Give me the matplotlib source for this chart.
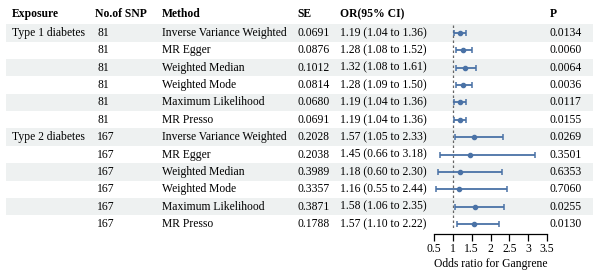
import matplotlib.pyplot as plt
import numpy as np

plt.rcParams['font.family'] = ['Liberation Serif', 'DejaVu Serif']

# table data
exposure = ['Type 1 diabetes', '', '', '', '', '',
            'Type 2 diabetes', '', '', '', '', '']
n_snp = [81, 81, 81, 81, 81, 81, 167, 167, 167, 167, 167, 167]
methods = ['Inverse Variance Weighted', 'MR Egger', 'Weighted Median',
           'Weighted Mode', 'Maximum Likelihood', 'MR Presso'] * 2
se = ['0.0691', '0.0876', '0.1012', '0.0814', '0.0680', '0.0691',
      '0.2028', '0.2038', '0.3989', '0.3357', '0.3871', '0.1788']
or_val = [1.19, 1.28, 1.32, 1.28, 1.19, 1.19, 1.57, 1.45, 1.18, 1.16, 1.58, 1.57]
ci_low = [1.04, 1.08, 1.08, 1.09, 1.04, 1.04, 1.05, 0.66, 0.60, 0.55, 1.06, 1.10]
ci_high = [1.36, 1.52, 1.61, 1.50, 1.36, 1.36, 2.33, 3.18, 2.30, 2.44, 2.35, 2.22]
p_val = ['0.0134', '0.0060', '0.0064', '0.0036', '0.0117', '0.0155',
         '0.0269', '0.3501', '0.6353', '0.7060', '0.0255', '0.0130']

W, H = 600, 276
fig = plt.figure(figsize=(W / 100, H / 100), dpi=100)

# table axes in pixel coordinates
ax = fig.add_axes([0, 0, 1, 1])
ax.set_xlim(0, W)
ax.set_ylim(H, 0)
ax.axis('off')

row0, pitch = 33.0, 17.36
rows_y = row0 + pitch * np.arange(len(methods))
fs = 8.4
blue = '#4a72a6'

for i, y in enumerate(rows_y):
    if i % 2 == 0:
        ax.axhspan(y - pitch / 2, y + pitch / 2, xmin=6 / W, xmax=593 / W,
                   color='#eef1f1', lw=0, zorder=0)

headers = [(12, 'Exposure'), (95, 'No.of SNP'), (162, 'Method'),
           (297, 'SE'), (340, 'OR(95% CI)'), (550, 'P')]
for x, h in headers:
    ax.text(x, 14, h, fontsize=fs, fontweight='bold', va='center', ha='left')

for i, y in enumerate(rows_y):
    ax.text(12, y, exposure[i], fontsize=fs, va='center')
    ax.text(97, y, str(n_snp[i]), fontsize=fs, va='center')
    ax.text(162, y, methods[i], fontsize=fs, va='center')
    ax.text(297, y, se[i], fontsize=fs, va='center')
    ax.text(340, y, f'{or_val[i]:.2f} ({ci_low[i]:.2f} to {ci_high[i]:.2f})',
            fontsize=fs, va='center')
    ax.text(550, y, p_val[i], fontsize=fs, va='center')

# forest plot axes
x0, x1 = 434, 547
y_axis = 234
fax = fig.add_axes([x0 / W, (H - y_axis) / H, (x1 - x0) / W, y_axis / H])
fax.patch.set_alpha(0)
fax.set_xlim(0.5, 3.5)
fax.set_ylim(y_axis, 0)
for s in ['top', 'right', 'left']:
    fax.spines[s].set_visible(False)
fax.spines['bottom'].set_linewidth(0.9)
fax.set_yticks([])
fax.set_xticks([0.5, 1, 1.5, 2, 2.5, 3, 3.5])
fax.set_xticklabels(['0.5', '1', '1.5', '2', '2.5', '3', '3.5'], fontsize=fs)
fax.tick_params(axis='x', length=5, width=0.9, pad=1.5)
fax.set_xlabel('Odds ratio for Gangrene', fontsize=fs, labelpad=2)

fax.plot([1, 1], [25, 228], ls=(0, (2, 2)), color='#666666', lw=0.9)

err = np.array([np.array(or_val) - np.array(ci_low),
                np.array(ci_high) - np.array(or_val)])
fax.errorbar(or_val, rows_y, xerr=err, fmt='o', color=blue, ms=3,
             elinewidth=1.3, capsize=2.5, capthick=1.1)

fig.savefig('out.png', dpi=100)
